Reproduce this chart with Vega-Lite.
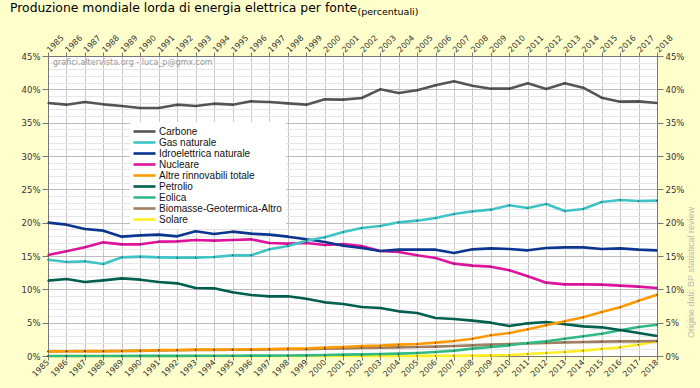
{
  "$schema": "https://vega.github.io/schema/vega-lite/v6.json",
  "width": 609,
  "height": 300,
  "autosize": {"type": "none"},
  "padding": {"left": 48, "top": 56, "right": 43, "bottom": 32},
  "background": "#ffffcc",
  "config": {
    "view": {"fill": "white", "stroke": "#999999", "strokeWidth": 1},
    "font": "DejaVu Sans",
    "axis": {"labelFont": "DejaVu Sans", "labelColor": "#333333", "domainColor": "#777777", "tickColor": "#777777", "labelFontSize": 8.5}
  },
  "title": {
    "text": "Produzione mondiale lorda di energia elettrica per fonte",
    "anchor": "start",
    "frame": "group",
    "font": "DejaVu Sans",
    "fontSize": 12.4,
    "fontWeight": "normal",
    "color": "black",
    "baseline": "alphabetic",
    "dx": -38,
    "offset": -18
  },
  "data": {
    "values": [
      {"year": 1985, "Carbone": 37.95, "Gas naturale": 14.45, "Idroelettrica naturale": 20.0, "Nucleare": 15.15, "Altre rinnovabili totale": 0.7, "Petrolio": 11.3, "Eolica": 0.0, "Biomasse-Geotermica-Altro": 0.69, "Solare": 0.0},
      {"year": 1986, "Carbone": 37.7, "Gas naturale": 14.1, "Idroelettrica naturale": 19.7, "Nucleare": 15.7, "Altre rinnovabili totale": 0.72, "Petrolio": 11.55, "Eolica": 0.0, "Biomasse-Geotermica-Altro": 0.71, "Solare": 0.0},
      {"year": 1987, "Carbone": 38.1, "Gas naturale": 14.2, "Idroelettrica naturale": 19.05, "Nucleare": 16.3, "Altre rinnovabili totale": 0.73, "Petrolio": 11.1, "Eolica": 0.0, "Biomasse-Geotermica-Altro": 0.72, "Solare": 0.0},
      {"year": 1988, "Carbone": 37.75, "Gas naturale": 13.8, "Idroelettrica naturale": 18.8, "Nucleare": 17.05, "Altre rinnovabili totale": 0.73, "Petrolio": 11.35, "Eolica": 0.0, "Biomasse-Geotermica-Altro": 0.72, "Solare": 0.0},
      {"year": 1989, "Carbone": 37.5, "Gas naturale": 14.8, "Idroelettrica naturale": 17.9, "Nucleare": 16.75, "Altre rinnovabili totale": 0.76, "Petrolio": 11.65, "Eolica": 0.01, "Biomasse-Geotermica-Altro": 0.74, "Solare": 0.0},
      {"year": 1990, "Carbone": 37.2, "Gas naturale": 14.9, "Idroelettrica naturale": 18.1, "Nucleare": 16.75, "Altre rinnovabili totale": 0.8, "Petrolio": 11.45, "Eolica": 0.02, "Biomasse-Geotermica-Altro": 0.77, "Solare": 0.0},
      {"year": 1991, "Carbone": 37.2, "Gas naturale": 14.8, "Idroelettrica naturale": 18.2, "Nucleare": 17.15, "Altre rinnovabili totale": 0.88, "Petrolio": 11.1, "Eolica": 0.02, "Biomasse-Geotermica-Altro": 0.85, "Solare": 0.0},
      {"year": 1992, "Carbone": 37.7, "Gas naturale": 14.75, "Idroelettrica naturale": 17.95, "Nucleare": 17.2, "Altre rinnovabili totale": 0.9, "Petrolio": 10.9, "Eolica": 0.02, "Biomasse-Geotermica-Altro": 0.87, "Solare": 0.0},
      {"year": 1993, "Carbone": 37.5, "Gas naturale": 14.75, "Idroelettrica naturale": 18.7, "Nucleare": 17.4, "Altre rinnovabili totale": 0.95, "Petrolio": 10.2, "Eolica": 0.03, "Biomasse-Geotermica-Altro": 0.91, "Solare": 0.0},
      {"year": 1994, "Carbone": 37.85, "Gas naturale": 14.85, "Idroelettrica naturale": 18.3, "Nucleare": 17.3, "Altre rinnovabili totale": 0.96, "Petrolio": 10.15, "Eolica": 0.03, "Biomasse-Geotermica-Altro": 0.92, "Solare": 0.0},
      {"year": 1995, "Carbone": 37.7, "Gas naturale": 15.1, "Idroelettrica naturale": 18.65, "Nucleare": 17.4, "Altre rinnovabili totale": 0.98, "Petrolio": 9.55, "Eolica": 0.04, "Biomasse-Geotermica-Altro": 0.93, "Solare": 0.0},
      {"year": 1996, "Carbone": 38.2, "Gas naturale": 15.1, "Idroelettrica naturale": 18.35, "Nucleare": 17.5, "Altre rinnovabili totale": 1.0, "Petrolio": 9.15, "Eolica": 0.05, "Biomasse-Geotermica-Altro": 0.94, "Solare": 0.0},
      {"year": 1997, "Carbone": 38.1, "Gas naturale": 16.0, "Idroelettrica naturale": 18.2, "Nucleare": 16.95, "Altre rinnovabili totale": 1.05, "Petrolio": 8.95, "Eolica": 0.06, "Biomasse-Geotermica-Altro": 0.98, "Solare": 0.0},
      {"year": 1998, "Carbone": 37.9, "Gas naturale": 16.5, "Idroelettrica naturale": 17.9, "Nucleare": 16.85, "Altre rinnovabili totale": 1.1, "Petrolio": 8.95, "Eolica": 0.08, "Biomasse-Geotermica-Altro": 1.01, "Solare": 0.0},
      {"year": 1999, "Carbone": 37.7, "Gas naturale": 17.3, "Idroelettrica naturale": 17.5, "Nucleare": 16.95, "Altre rinnovabili totale": 1.12, "Petrolio": 8.6, "Eolica": 0.1, "Biomasse-Geotermica-Altro": 1.01, "Solare": 0.0},
      {"year": 2000, "Carbone": 38.5, "Gas naturale": 17.8, "Idroelettrica naturale": 17.1, "Nucleare": 16.65, "Altre rinnovabili totale": 1.25, "Petrolio": 8.05, "Eolica": 0.15, "Biomasse-Geotermica-Altro": 1.09, "Solare": 0.0},
      {"year": 2001, "Carbone": 38.45, "Gas naturale": 18.6, "Idroelettrica naturale": 16.55, "Nucleare": 16.8, "Altre rinnovabili totale": 1.35, "Petrolio": 7.8, "Eolica": 0.2, "Biomasse-Geotermica-Altro": 1.14, "Solare": 0.0},
      {"year": 2002, "Carbone": 38.7, "Gas naturale": 19.2, "Idroelettrica naturale": 16.2, "Nucleare": 16.5, "Altre rinnovabili totale": 1.5, "Petrolio": 7.35, "Eolica": 0.25, "Biomasse-Geotermica-Altro": 1.22, "Solare": 0.01},
      {"year": 2003, "Carbone": 40.0, "Gas naturale": 19.5, "Idroelettrica naturale": 15.75, "Nucleare": 15.75, "Altre rinnovabili totale": 1.55, "Petrolio": 7.2, "Eolica": 0.3, "Biomasse-Geotermica-Altro": 1.25, "Solare": 0.01},
      {"year": 2004, "Carbone": 39.45, "Gas naturale": 20.05, "Idroelettrica naturale": 15.95, "Nucleare": 15.6, "Altre rinnovabili totale": 1.7, "Petrolio": 6.7, "Eolica": 0.35, "Biomasse-Geotermica-Altro": 1.3, "Solare": 0.01},
      {"year": 2005, "Carbone": 39.85, "Gas naturale": 20.3, "Idroelettrica naturale": 15.95, "Nucleare": 15.1, "Altre rinnovabili totale": 1.8, "Petrolio": 6.45, "Eolica": 0.45, "Biomasse-Geotermica-Altro": 1.35, "Solare": 0.02},
      {"year": 2006, "Carbone": 40.6, "Gas naturale": 20.7, "Idroelettrica naturale": 15.95, "Nucleare": 14.7, "Altre rinnovabili totale": 2.0, "Petrolio": 5.7, "Eolica": 0.6, "Biomasse-Geotermica-Altro": 1.4, "Solare": 0.03},
      {"year": 2007, "Carbone": 41.2, "Gas naturale": 21.3, "Idroelettrica naturale": 15.45, "Nucleare": 13.85, "Altre rinnovabili totale": 2.25, "Petrolio": 5.55, "Eolica": 0.8, "Biomasse-Geotermica-Altro": 1.5, "Solare": 0.04},
      {"year": 2008, "Carbone": 40.55, "Gas naturale": 21.7, "Idroelettrica naturale": 16.0, "Nucleare": 13.55, "Altre rinnovabili totale": 2.6, "Petrolio": 5.3, "Eolica": 1.1, "Biomasse-Geotermica-Altro": 1.6, "Solare": 0.06},
      {"year": 2009, "Carbone": 40.1, "Gas naturale": 21.95, "Idroelettrica naturale": 16.15, "Nucleare": 13.4, "Altre rinnovabili totale": 3.1, "Petrolio": 5.0, "Eolica": 1.35, "Biomasse-Geotermica-Altro": 1.7, "Solare": 0.1},
      {"year": 2010, "Carbone": 40.1, "Gas naturale": 22.6, "Idroelettrica naturale": 16.05, "Nucleare": 12.85, "Altre rinnovabili totale": 3.45, "Petrolio": 4.5, "Eolica": 1.6, "Biomasse-Geotermica-Altro": 1.8, "Solare": 0.15},
      {"year": 2011, "Carbone": 40.9, "Gas naturale": 22.2, "Idroelettrica naturale": 15.85, "Nucleare": 11.95, "Altre rinnovabili totale": 4.0, "Petrolio": 4.9, "Eolica": 1.95, "Biomasse-Geotermica-Altro": 1.9, "Solare": 0.3},
      {"year": 2012, "Carbone": 40.05, "Gas naturale": 22.8, "Idroelettrica naturale": 16.2, "Nucleare": 11.0, "Altre rinnovabili totale": 4.6, "Petrolio": 5.1, "Eolica": 2.2, "Biomasse-Geotermica-Altro": 1.95, "Solare": 0.45},
      {"year": 2013, "Carbone": 40.9, "Gas naturale": 21.75, "Idroelettrica naturale": 16.3, "Nucleare": 10.75, "Altre rinnovabili totale": 5.2, "Petrolio": 4.75, "Eolica": 2.6, "Biomasse-Geotermica-Altro": 2.05, "Solare": 0.6},
      {"year": 2014, "Carbone": 40.25, "Gas naturale": 22.05, "Idroelettrica naturale": 16.3, "Nucleare": 10.75, "Altre rinnovabili totale": 5.8, "Petrolio": 4.45, "Eolica": 2.95, "Biomasse-Geotermica-Altro": 2.1, "Solare": 0.8},
      {"year": 2015, "Carbone": 38.75, "Gas naturale": 23.1, "Idroelettrica naturale": 16.05, "Nucleare": 10.7, "Altre rinnovabili totale": 6.6, "Petrolio": 4.3, "Eolica": 3.35, "Biomasse-Geotermica-Altro": 2.15, "Solare": 1.05},
      {"year": 2016, "Carbone": 38.15, "Gas naturale": 23.4, "Idroelettrica naturale": 16.15, "Nucleare": 10.55, "Altre rinnovabili totale": 7.3, "Petrolio": 3.9, "Eolica": 3.85, "Biomasse-Geotermica-Altro": 2.2, "Solare": 1.3},
      {"year": 2017, "Carbone": 38.2, "Gas naturale": 23.25, "Idroelettrica naturale": 15.95, "Nucleare": 10.4, "Altre rinnovabili totale": 8.3, "Petrolio": 3.45, "Eolica": 4.35, "Biomasse-Geotermica-Altro": 2.2, "Solare": 1.7},
      {"year": 2018, "Carbone": 37.95, "Gas naturale": 23.3, "Idroelettrica naturale": 15.85, "Nucleare": 10.2, "Altre rinnovabili totale": 9.2, "Petrolio": 3.0, "Eolica": 4.7, "Biomasse-Geotermica-Altro": 2.25, "Solare": 2.2}
    ]
  },
  "layer": [
    {
      "transform": [{"fold": ["Solare", "Biomasse-Geotermica-Altro", "Eolica", "Petrolio", "Altre rinnovabili totale", "Nucleare", "Idroelettrica naturale", "Gas naturale", "Carbone"], "as": ["serie", "value"]}],
      "mark": {"type": "line", "strokeJoin": "round"},
      "encoding": {
        "x": {
          "field": "year", "type": "quantitative",
          "scale": {"domain": [1985, 2018], "nice": false, "zero": false},
          "axis": {
            "orient": "bottom", "title": null, "format": "d",
            "values": [1985,1986,1987,1988,1989,1990,1991,1992,1993,1994,1995,1996,1997,1998,1999,2000,2001,2002,2003,2004,2005,2006,2007,2008,2009,2010,2011,2012,2013,2014,2015,2016,2017,2018],
            "labelAngle": -45, "labelAlign": "right", "labelBaseline": "middle", "labelOverlap": false,
            "labelFontSize": 8, "tickSize": 4, "labelPadding": 1,
            "grid": true, "gridColor": "#c8c8c8"
          }
        },
        "y": {
          "field": "value", "type": "quantitative",
          "scale": {"domain": [0, 45], "nice": false, "zero": true},
          "axis": {
            "orient": "left", "title": null,
            "values": [0,1,2,3,4,5,6,7,8,9,10,11,12,13,14,15,16,17,18,19,20,21,22,23,24,25,26,27,28,29,30,31,32,33,34,35,36,37,38,39,40,41,42,43,44,45],
            "labelExpr": "datum.value % 5 === 0 ? datum.value + '%' : ''",
            "labelOverlap": false,
            "grid": true,
            "gridColor": {"condition": {"test": "datum.value % 5 === 0", "value": "#bdbdbd"}, "value": "#e6e6e6"},
            "tickOpacity": {"condition": {"test": "datum.value % 5 === 0", "value": 1}, "value": 0},
            "tickSize": 6, "labelPadding": 2
          }
        },
        "color": {
          "field": "serie", "type": "nominal",
          "scale": {
            "domain": ["Carbone", "Gas naturale", "Idroelettrica naturale", "Nucleare", "Altre rinnovabili totale", "Petrolio", "Eolica", "Biomasse-Geotermica-Altro", "Solare"],
            "range": ["#555555", "#3ec4c8", "#0a3592", "#e0129e", "#ff9a00", "#00604f", "#30bb84", "#a07f62", "#ffee22"]
          },
          "legend": {
            "orient": "none", "legendX": 82, "legendY": 66, "title": null,
            "fillColor": "white", "padding": 4,
            "symbolType": "M-2.75,0H2.75", "symbolSize": 64, "symbolStrokeWidth": 3,
            "symbolOffset": 5, "labelOffset": 9,
            "labelFont": "Liberation Sans", "labelFontSize": 10, "labelColor": "#111111",
            "rowPadding": -2.5
          }
        },
        "strokeWidth": {
          "field": "serie", "type": "nominal",
          "scale": {
            "domain": ["Carbone", "Gas naturale", "Idroelettrica naturale", "Nucleare", "Altre rinnovabili totale", "Petrolio", "Eolica", "Biomasse-Geotermica-Altro", "Solare"],
            "range": [2.6, 2.6, 2.6, 2.6, 2.6, 2.6, 1.6, 1.6, 1.6]
          },
          "legend": null
        }
      }
    },
    {
      "transform": [{"fold": ["Solare", "Biomasse-Geotermica-Altro", "Eolica", "Petrolio", "Altre rinnovabili totale", "Nucleare", "Idroelettrica naturale", "Gas naturale", "Carbone"], "as": ["serie", "value"]}],
      "mark": {"type": "point", "filled": true, "size": 3, "color": "#333333", "opacity": 0.7},
      "encoding": {
        "x": {"field": "year", "type": "quantitative", "axis": null},
        "y": {"field": "value", "type": "quantitative", "axis": null}
      }
    },
    {
      "transform": [{"fold": ["Carbone"], "as": ["serie", "value"]}],
      "mark": {"type": "point", "opacity": 0},
      "encoding": {
        "x": {
          "field": "year", "type": "quantitative",
          "axis": {
            "orient": "top", "format": "d",
            "values": [1985,1986,1987,1988,1989,1990,1991,1992,1993,1994,1995,1996,1997,1998,1999,2000,2001,2002,2003,2004,2005,2006,2007,2008,2009,2010,2011,2012,2013,2014,2015,2016,2017,2018],
            "labelAngle": -45, "labelAlign": "left", "labelBaseline": "middle", "labelOverlap": false,
            "labelFontSize": 8, "tickSize": 4, "labelPadding": 1, "grid": false,
            "title": "(percentuali)", "titleX": 309, "titleY": -42, "titleAlign": "left", "titleBaseline": "alphabetic",
            "titleFont": "DejaVu Sans", "titleFontSize": 9.5, "titleFontWeight": "normal", "titleColor": "black"
          }
        },
        "y": {
          "field": "value", "type": "quantitative",
          "axis": {
            "orient": "right", "values": [0,5,10,15,20,25,30,35,40,45],
            "labelExpr": "datum.value + '%'", "labelOverlap": false, "grid": false,
            "tickSize": 6, "labelPadding": 2,
            "title": "Origine dati: BP statistical review", "titleAngle": 270, "titleX": 33, "titleY": 216,
            "titleAlign": "center", "titleBaseline": "middle",
            "titleFont": "Liberation Sans", "titleFontSize": 9, "titleFontWeight": "normal", "titleColor": "#b9b9ae"
          }
        }
      }
    },
    {
      "data": {"values": [{"year": 1985, "value": 45, "t": "grafici.altervista.org - luca_p@gmx.com"}]},
      "mark": {"type": "text", "align": "left", "baseline": "top", "dx": 5, "dy": 3, "font": "DejaVu Sans", "fontSize": 8, "color": "#999999"},
      "encoding": {
        "x": {"field": "year", "type": "quantitative", "axis": null},
        "y": {"field": "value", "type": "quantitative", "axis": null},
        "text": {"field": "t"}
      }
    }
  ],
  "resolve": {"axis": {"x": "independent", "y": "independent"}}
}
